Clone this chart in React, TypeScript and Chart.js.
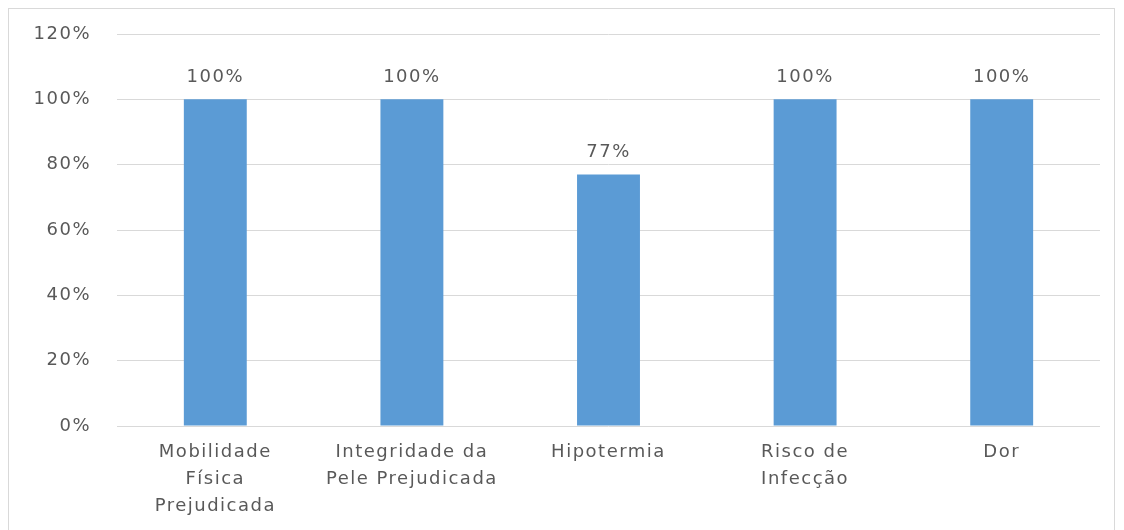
import React, { useEffect, useRef } from "react";
import { Chart, registerables } from "chart.js";

Chart.register(...registerables);

const categories: (string | string[])[] = [
  ["Mobilidade", "Física", "Prejudicada"],
  ["Integridade da", "Pele Prejudicada"],
  "Hipotermia",
  ["Risco de", "Infecção"],
  "Dor",
];
const values: number[] = [1.0, 1.0, 0.77, 1.0, 1.0];
const yTickMax = 1.2;
const yTickStep = 0.2;

const TEXT = "#595959";
const FONT = "'DejaVu Sans', sans-serif";
const SPACING = "1.5px";

const spacingPlugin = {
  id: "spacing",
  beforeUpdate(chart: any) {
    (chart.ctx as any).letterSpacing = SPACING;
  },
  beforeLayout(chart: any) {
    (chart.ctx as any).letterSpacing = SPACING;
  },
  beforeDraw(chart: any) {
    (chart.ctx as any).letterSpacing = SPACING;
  },
};

const valueLabels = {
  id: "valueLabels",
  afterDatasetsDraw(chart: any) {
    const ctx = chart.ctx;
    const meta = chart.getDatasetMeta(0);
    ctx.save();
    (ctx as any).letterSpacing = SPACING;
    ctx.fillStyle = TEXT;
    ctx.font = `18px ${FONT}`;
    ctx.textAlign = "center";
    ctx.textBaseline = "alphabetic";
    meta.data.forEach((bar: any, i: number) => {
      const v = values[i];
      ctx.fillText(`${Math.round(v * 100)}%`, bar.x, bar.y - 17);
    });
    ctx.restore();
  },
};

export default function App() {
  const ref = useRef<HTMLCanvasElement | null>(null);
  useEffect(() => {
    if (!ref.current) return;
    const chart = new Chart(ref.current, {
      type: "bar",
      data: {
        labels: categories,
        datasets: [
          {
            data: values,
            backgroundColor: "#5b9bd5",
            borderWidth: 0,
            categoryPercentage: 1,
            barPercentage: 0.32,
          },
        ],
      },
      options: {
        animation: false,
        responsive: false,
        maintainAspectRatio: false,
        layout: { padding: { left: 0, right: 14, top: 25, bottom: 0 } },
        plugins: {
          legend: { display: false },
          tooltip: { enabled: false },
        },
        scales: {
          x: {
            grid: { display: false, drawTicks: false },
            border: { display: false },
            ticks: {
              color: TEXT,
              font: { family: FONT, size: 18, lineHeight: 1.5 },
              padding: 13,
              maxRotation: 0,
              autoSkip: false,
            },
            afterFit(scale: any) {
              scale.height = 104;
            },
          },
          y: {
            min: 0,
            max: yTickMax,
            grid: { color: "#d9d9d9", drawTicks: false, lineWidth: 1 },
            border: { display: false },
            ticks: {
              stepSize: yTickStep,
              color: TEXT,
              font: { family: FONT, size: 18 },
              padding: 26,
              callback: (v: any) => `${Math.round(Number(v) * 100)}%`,
            },
            afterFit(scale: any) {
              scale.width = 108;
              scale.paddingTop = 0;
              scale.paddingBottom = 0;
            },
          },
        },
      },
      plugins: [spacingPlugin, valueLabels],
    });
    return () => chart.destroy();
  }, []);
  return (
    <div
      style={{
        width: 1105,
        height: 521,
        borderTop: "1px solid #d9d9d9",
        borderLeft: "1px solid #d9d9d9",
        borderRight: "1px solid #d9d9d9",
        background: "#fff",
      }}
    >
      <canvas ref={ref} width={1105} height={521} style={{ display: "block" }} />
    </div>
  );
}
